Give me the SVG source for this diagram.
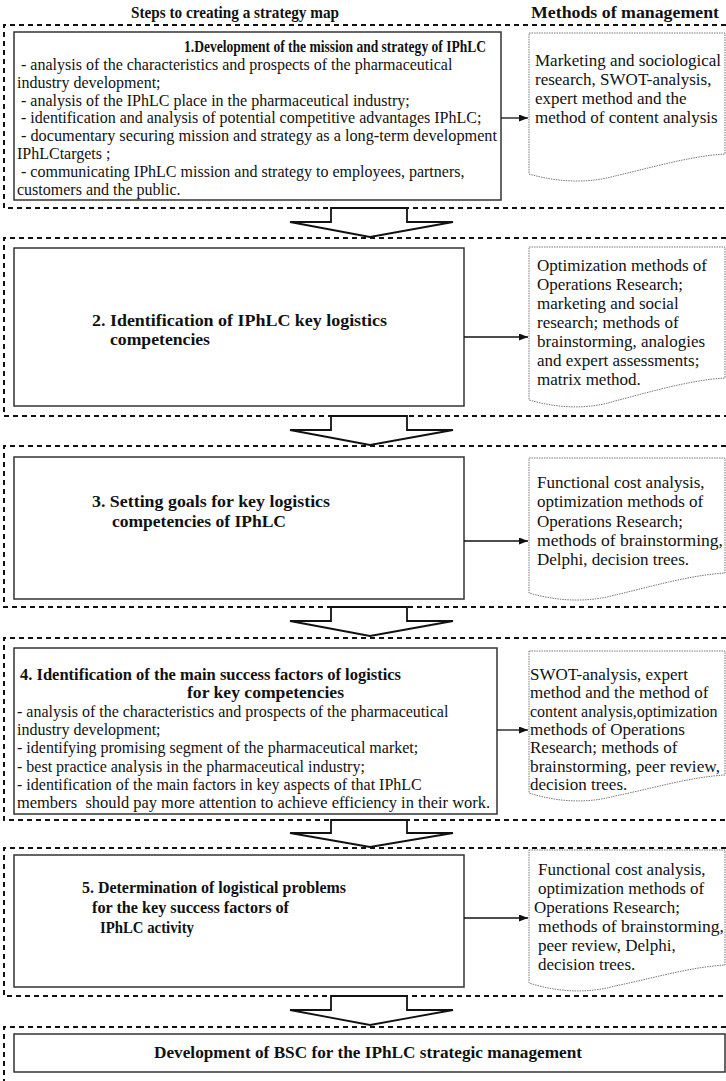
<svg xmlns="http://www.w3.org/2000/svg" width="726" height="1081" viewBox="0 0 726 1081">
<style>
.sec{fill:none;stroke:#111;stroke-width:2;stroke-dasharray:5 4}
.box{fill:#fff;stroke:#333;stroke-width:1.5}
.doc{fill:#fff;stroke:#777;stroke-width:1;stroke-dasharray:1.5 1}
.blk{fill:#fff;stroke:#111;stroke-width:1.8;stroke-linejoin:miter}
.t{font-family:"Liberation Serif","Times New Roman",serif;font-size:16px;fill:#111}
.b{font-weight:bold}
.d{font-size:17px}
.h{font-size:16px}
.bt{font-size:17px}
.conn line{stroke:#111;stroke-width:1.3;marker-end:url(#ah)}
</style>
<defs>
<marker id="ah" markerWidth="9" markerHeight="7" refX="9" refY="3.5" orient="auto" markerUnits="userSpaceOnUse">
<path d="M0,0 L9,3.5 L0,7 Z" fill="#111"/>
</marker>
</defs>
<rect width="726" height="1081" fill="#fff"/>

<g id="header">
<text class="t b h" x="131" y="18" textLength="208" lengthAdjust="spacingAndGlyphs">Steps to creating a strategy map</text>
<text class="t b h" x="531" y="18" textLength="188" lengthAdjust="spacingAndGlyphs">Methods of management</text>
</g>

<g id="sections">
<path class="sec" d="M726,25 H4 V208 H726"/>
<path class="sec" d="M726,238 H4 V416 H726"/>
<path class="sec" d="M726,446 H4 V607 H726"/>
<path class="sec" d="M726,638 H4 V820 H726"/>
<path class="sec" d="M726,848 H4 V996 H726"/>
<path class="sec" d="M726,1027 H4 V1090"/>
</g>

<g id="block-arrows">
<path class="blk" d="M331,208 V222 H290 L370,237 L453,222 H407 V208 Z"/>
<path class="blk" d="M331,416 V430 H290 L370,445 L453,430 H407 V416 Z"/>
<path class="blk" d="M331,607 V621 H290 L370,636 L453,621 H407 V607 Z"/>
<path class="blk" d="M331,820 V833 H290 L370,847 L453,833 H407 V820 Z"/>
<path class="blk" d="M331,996 V1010 H290 L370,1025 L453,1010 H407 V996 Z"/>
</g>

<g id="step1">
<rect class="box" x="14" y="32" width="487" height="168"/>
<text class="t b" x="184" y="52" textLength="302" lengthAdjust="spacingAndGlyphs">1.Development of the mission and strategy of IPhLC</text>
<text class="t" x="21" y="70">- analysis of the characteristics and prospects of the pharmaceutical</text>
<text class="t" x="17" y="88">industry development;</text>
<text class="t" x="21" y="106">- analysis of the IPhLC place in the pharmaceutical industry;</text>
<text class="t" x="21" y="123">- identification and analysis of potential competitive advantages IPhLC;</text>
<text class="t" x="21" y="141" textLength="476" lengthAdjust="spacingAndGlyphs">- documentary securing mission and strategy as a long-term development</text>
<text class="t" x="17" y="159">IPhLCtargets ;</text>
<text class="t" x="21" y="177">- communicating IPhLC mission and strategy to employees, partners,</text>
<text class="t" x="17" y="195">customers and the public.</text>
</g>
<g id="method1">
<path class="doc" d="M529,33 H725 V154 C690,156 650,168 615,176 C590,183 560,183 529,174 Z"/>
<text class="t d" x="535" y="66">Marketing and sociological</text>
<text class="t d" x="535" y="85">research, SWOT-analysis,</text>
<text class="t d" x="535" y="104">expert method and the</text>
<text class="t d" x="535" y="123">method of content analysis</text>
</g>

<g id="step2">
<rect class="box" x="14" y="248" width="450" height="158"/>
<text class="t b bt" x="92" y="326" textLength="295" lengthAdjust="spacingAndGlyphs">2. Identification of IPhLC key logistics</text>
<text class="t b bt" x="110" y="345" textLength="100" lengthAdjust="spacingAndGlyphs">competencies</text>
</g>
<g id="method2">
<path class="doc" d="M529,247 H725 V378 C690,380 650,392 615,401 C590,409 560,409 529,400 Z"/>
<text class="t d" x="537" y="271">Optimization methods of</text>
<text class="t d" x="537" y="290">Operations Research;</text>
<text class="t d" x="537" y="309">marketing and social</text>
<text class="t d" x="537" y="328">research; methods of</text>
<text class="t d" x="537" y="347">brainstorming, analogies</text>
<text class="t d" x="537" y="366">and expert assessments;</text>
<text class="t d" x="537" y="385">matrix method.</text>
</g>

<g id="step3">
<rect class="box" x="14" y="457" width="450" height="142"/>
<text class="t b bt" x="92" y="507" textLength="238" lengthAdjust="spacingAndGlyphs">3. Setting goals for key logistics</text>
<text class="t b bt" x="112" y="527" textLength="174" lengthAdjust="spacingAndGlyphs">competencies of IPhLC</text>
</g>
<g id="method3">
<path class="doc" d="M529,458 H725 V573 C690,575 650,587 615,595 C590,602 560,602 529,593 Z"/>
<text class="t d" x="537" y="488">Functional cost analysis,</text>
<text class="t d" x="537" y="507">optimization methods of</text>
<text class="t d" x="537" y="527">Operations Research;</text>
<text class="t d" x="537" y="546" textLength="186" lengthAdjust="spacingAndGlyphs">methods of brainstorming,</text>
<text class="t d" x="537" y="565">Delphi, decision trees.</text>
</g>

<g id="step4">
<rect class="box" x="14" y="648" width="483" height="166"/>
<text class="t b" x="20" y="680" textLength="381" lengthAdjust="spacingAndGlyphs">4. Identification of the main success factors of logistics</text>
<text class="t b" x="187" y="698" textLength="157" lengthAdjust="spacingAndGlyphs">for key competencies</text>
<text class="t" x="17" y="717">- analysis of the characteristics and prospects of the pharmaceutical</text>
<text class="t" x="17" y="735">industry development;</text>
<text class="t" x="17" y="753">- identifying promising segment of the pharmaceutical market;</text>
<text class="t" x="17" y="772">- best practice analysis in the pharmaceutical industry;</text>
<text class="t" x="17" y="790">- identification of the main factors in key aspects of that IPhLC</text>
<text class="t" x="17" y="808" textLength="473" lengthAdjust="spacingAndGlyphs" xml:space="preserve">members  should pay more attention to achieve efficiency in their work.</text>
</g>
<g id="method4">
<path class="doc" d="M529,651 H725 V775 C690,777 650,789 615,796 C590,803 560,803 529,793 Z"/>
<text class="t d" x="530" y="680">SWOT-analysis, expert</text>
<text class="t d" x="530" y="698">method and the method of</text>
<text class="t" x="530" y="717">content analysis,optimization</text>
<text class="t d" x="530" y="735">methods of Operations</text>
<text class="t d" x="530" y="753">Research; methods of</text>
<text class="t d" x="530" y="772" textLength="190" lengthAdjust="spacingAndGlyphs">brainstorming, peer review,</text>
<text class="t d" x="530" y="790">decision trees.</text>
</g>

<g id="step5">
<rect class="box" x="14" y="855" width="450" height="132"/>
<text class="t b bt" x="82" y="893" textLength="264" lengthAdjust="spacingAndGlyphs">5. Determination of logistical problems</text>
<text class="t b bt" x="92" y="913" textLength="197" lengthAdjust="spacingAndGlyphs">for the key success factors of</text>
<text class="t b bt" x="100" y="933" textLength="94" lengthAdjust="spacingAndGlyphs">IPhLC activity</text>
</g>
<g id="method5">
<path class="doc" d="M529,850 H725 V965 C690,967 650,979 615,986 C590,993 560,993 529,983 Z"/>
<text class="t d" x="538" y="875">Functional cost analysis,</text>
<text class="t d" x="538" y="894">optimization methods of</text>
<text class="t d" x="534" y="913">Operations Research;</text>
<text class="t d" x="538" y="932" textLength="186" lengthAdjust="spacingAndGlyphs">methods of brainstorming,</text>
<text class="t d" x="538" y="951">peer review, Delphi,</text>
<text class="t d" x="538" y="970">decision trees.</text>
</g>

<g id="step6">
<rect class="box" x="14" y="1034" width="711" height="38"/>
<text class="t b bt" x="154" y="1058" textLength="428" lengthAdjust="spacingAndGlyphs">Development of BSC for the IPhLC strategic management</text>
</g>

<g id="connectors" class="conn">
<line x1="501" y1="118" x2="528" y2="118"/>
<line x1="464" y1="337" x2="528" y2="337"/>
<line x1="464" y1="541" x2="528" y2="541"/>
<line x1="497" y1="730" x2="528" y2="730"/>
<line x1="464" y1="918" x2="528" y2="918"/>
</g>
</svg>
